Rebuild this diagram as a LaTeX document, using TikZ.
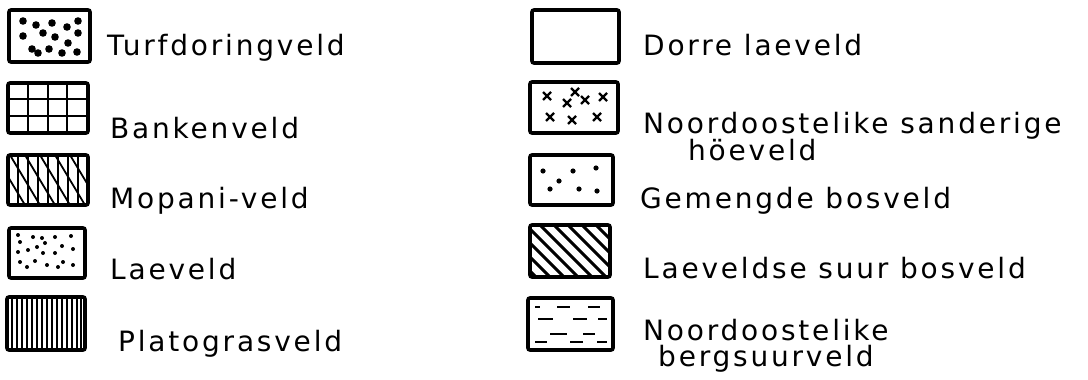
\documentclass[tikz,border=0pt]{standalone}
\usepackage{fontspec}
\setmainfont{DejaVu Sans}[LetterSpace=10]
\begin{document}
\begin{tikzpicture}[x=1pt,y=-1pt,
  legbox/.style={line width=3.6pt,rounded corners=2pt},
  lab/.style={anchor=base west,inner sep=0pt,font=\fontsize{28}{28}\selectfont},
  pat/.style={line width=1.8pt}]
\useasboundingbox (0,0) rectangle (1088,380);
% ---------- left column ----------
% 1 Turfdoringveld
\draw[legbox] (9,10) rectangle (90,62);
\foreach \p in {(23,21),(36,25),(52,23),(67,27),(78,21),(23,36),(43,33),(55,37),(78,33),(32,49),(38,53),(49,49),(62,53),(68,43),(77,52)}
  \fill \p circle (3.8);
\node[lab] (t1) at (107,56) {Turfdoringveld};
% 2 Bankenveld
\draw[legbox] (8,83) rectangle (88,133);
\draw[line width=2.8pt] (28,83) -- (28,133) (48,83) -- (48,133) (67,83) -- (67,133)
  (8,99) -- (88,99) (8,116) -- (88,116);
\node[lab] (t2) at (110,138) {Bankenveld};
% 3 Mopani-veld
\begin{scope}
\clip (8,155) rectangle (88,205);
\foreach \x in {18,28,38,48,58,68,78}
  \draw[line width=2.4pt] (\x,155) -- (\x,205);
\foreach \x in {-20,-5,10,25,40,55,70}
  \draw[pat] (\x,155) -- (\x+30,205);
\end{scope}
\draw[legbox] (8,155) rectangle (88,205);
\node[lab] (t3) at (110,208) {Mopani-veld};
% 4 Laeveld
\draw[legbox] (9,228) rectangle (85,278);
\foreach \p in {(18,235),(33,237),(42,238),(45,243),(55,237),(71,236),(20,242),(28,250),(37,247),(43,253),(55,253),(62,246),(73,249),(18,252),(20,262),(27,267),(35,261),(47,265),(58,267),(63,262),(73,265)}
  \fill \p circle (2);
\node[lab] (t4) at (110,279) {Laeveld};
% 5 Platograsveld
\foreach \x in {12,17,22,27,32,37,42,47,52,57,62,67,72,77,81}
  \draw[line width=2.4pt] (\x,297) -- (\x,350);
\draw[legbox] (7,297) rectangle (85,350);
\node[lab] (t5) at (118,351) {Platograsveld};
% ---------- right column ----------
% 1 Dorre laeveld
\draw[legbox] (532,10) rectangle (619,63);
\node[lab] (r1) at (643,56) {Dorre laeveld};
% 2 Noordoostelike sanderige hoeveld
\draw[legbox] (530,82) rectangle (618,133);
\foreach \p in {(547,96),(567,103),(575,92),(585,100),(603,97),(550,117),(572,120),(597,117)}
  \draw[line width=2.2pt] \p ++(-4,-4) -- ++(8,8) \p ++(-4,4) -- ++(8,-8);
\node[lab] (r2) at (643,133) {Noordoostelike sanderige};
\node[lab] (r2b) at (688,160) {höeveld};
% 3 Gemengde bosveld
\draw[legbox] (530,155) rectangle (613,205);
\foreach \p in {(543,171),(573,171),(596,168),(559,181),(550,189),(579,189),(597,191)}
  \fill \p circle (2.6);
\node[lab] (r3) at (640,208) {Gemengde bosveld};
% 4 Laeveldse suur bosveld
\begin{scope}
\clip (530,225) rectangle (610,277);
\foreach \x in {470,484,498,512,526,540,554,568,582,596,610}
  \draw[line width=3pt] (\x,225) -- (\x+55,280);
\end{scope}
\draw[legbox] (530,225) rectangle (610,277);
\node[lab] (r4) at (643,278) {Laeveldse suur bosveld};
% 5 Noordoostelike bergsuurveld
\draw[legbox] (528,298) rectangle (613,350);
\draw[line width=2.8pt]
  (535,307) -- (540,307) (557,307) -- (570,307) (588,307) -- (600,307)
  (538,319) -- (553,319) (573,319) -- (587,319) (598,319) -- (607,319)
  (550,334) -- (567,334) (583,334) -- (595,334)
  (535,342) -- (547,342) (570,342) -- (583,342) (597,342) -- (607,342);
\node[lab] (r5) at (643,340) {Noordoostelike};
\node[lab] (r5b) at (658,366) {bergsuurveld};
\end{tikzpicture}
\end{document}
